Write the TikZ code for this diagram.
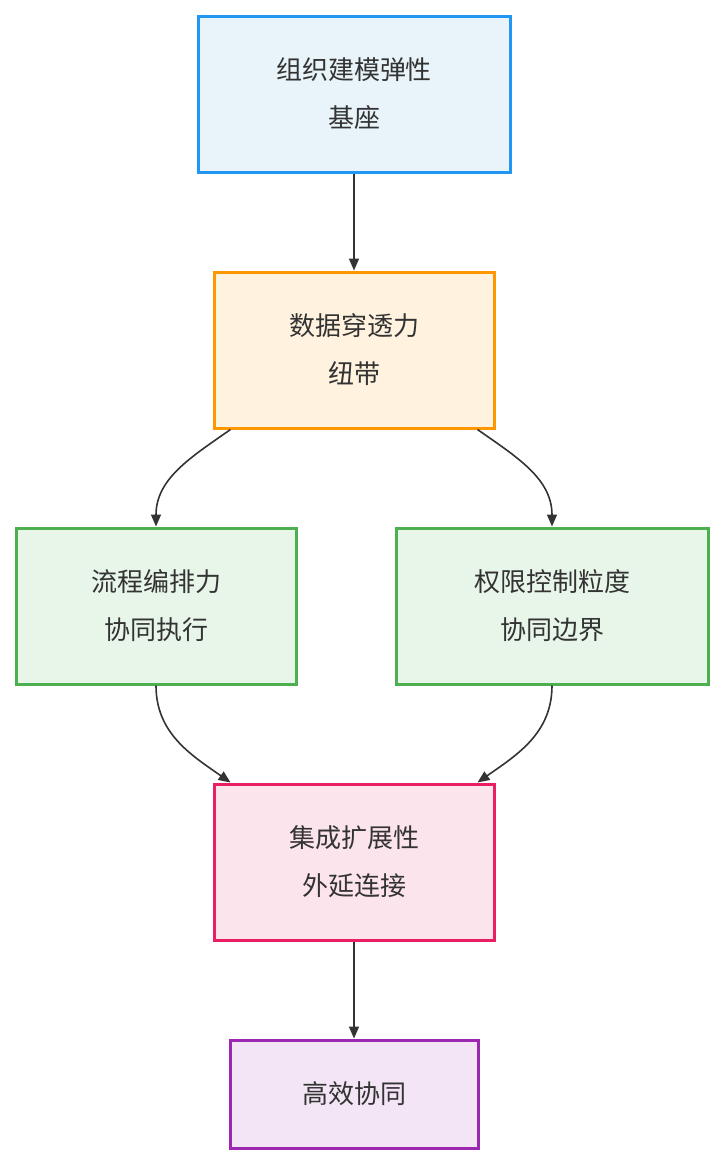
\documentclass[tikz,border=0pt]{standalone}
\usepackage{fontspec}
\setmainfont{Noto Sans CJK SC}
\usetikzlibrary{arrows.meta,positioning}
\definecolor{txt}{HTML}{333333}
\begin{document}
\begin{tikzpicture}[x=0.5pt,y=-0.5pt,
  box/.style={draw, line width=1.5pt, align=center, text=txt, font=\fontsize{13}{24}\selectfont, inner sep=0pt},
  link/.style={-{Triangle[length=6pt,width=5pt]}, line width=0.8pt, draw=txt}]
\useasboundingbox (0,0) rectangle (724,1164);

% boxes
\node[box, draw={rgb,255:red,33;green,150;blue,243}, fill={rgb,255:red,232;green,244;blue,250}, minimum width=156pt, minimum height=78pt] (base) at (354,94) {组织建模弹性\\基座};
\node[box, draw={rgb,255:red,255;green,152;blue,0}, fill={rgb,255:red,255;green,243;blue,224}, minimum width=140pt, minimum height=78pt] (data) at (354,350) {数据穿透力\\纽带};
\node[box, draw={rgb,255:red,76;green,175;blue,80}, fill={rgb,255:red,232;green,245;blue,233}, minimum width=140pt, minimum height=78pt] (flow) at (156,606) {流程编排力\\协同执行};
\node[box, draw={rgb,255:red,76;green,175;blue,80}, fill={rgb,255:red,232;green,245;blue,233}, minimum width=156pt, minimum height=78pt] (perm) at (552,606) {权限控制粒度\\协同边界};
\node[box, draw={rgb,255:red,233;green,30;blue,99}, fill={rgb,255:red,252;green,228;blue,236}, minimum width=140pt, minimum height=78pt] (integ) at (354,862) {集成扩展性\\外延连接};
\node[box, draw={rgb,255:red,156;green,39;blue,176}, fill={rgb,255:red,243;green,229;blue,245}, minimum width=124pt, minimum height=54pt] (eff) at (354,1094) {高效协同};

% connectors
\draw[link] (base) -- (data);
\draw[link] ([xshift=9pt]data.south west) to[out=-145,in=90] (flow.north);
\draw[link] ([xshift=-9pt]data.south east) to[out=-35,in=90] (perm.north);
\draw[link] (flow.south) to[out=-90,in=145] ([xshift=9pt]integ.north west);
\draw[link] (perm.south) to[out=-90,in=35] ([xshift=-9pt]integ.north east);
\draw[link] (integ) -- (eff);
\end{tikzpicture}
\end{document}
